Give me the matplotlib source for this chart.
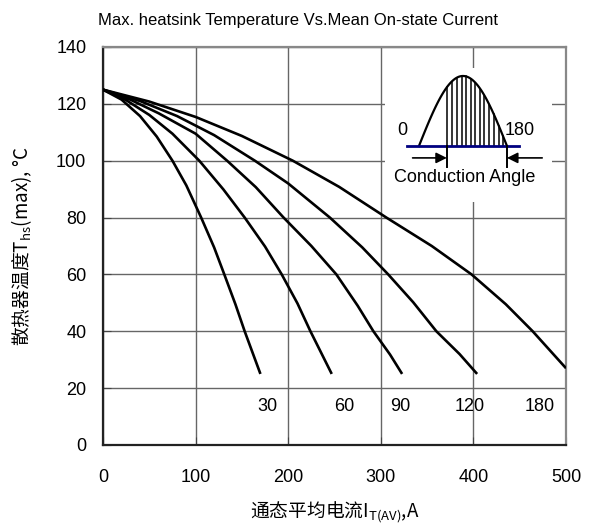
import matplotlib.pyplot as plt
import numpy as np

plt.rcParams['font.family'] = ['Liberation Sans', 'Noto Sans CJK SC', 'DejaVu Sans']

# mean on-state current (A) vs max heatsink temperature (°C), per conduction angle
cur_30 = [0, 20, 40, 58, 75, 90, 106, 120, 131, 143, 153, 170]
tmp_30 = [125, 121.5, 115.7, 108.5, 100, 91.3, 80, 69.5, 60, 49.5, 40, 25]
cur_60 = [0, 25, 50, 75, 104, 130, 153, 175, 193, 210, 224, 247]
tmp_60 = [125, 121.3, 116.1, 109.5, 100, 89.9, 80, 69.8, 60, 49.8, 40, 25]
cur_90 = [0, 30, 60, 100, 134, 165, 195, 225, 252, 275, 292, 310, 323]
tmp_90 = [125, 121.4, 116.7, 109.5, 100, 90.7, 80, 70, 60, 49, 40, 31.8, 25]
cur_120 = [0, 40, 80, 120, 164, 200, 245, 280, 308, 335, 360, 385, 404]
tmp_120 = [125, 121, 115.7, 109, 100, 92, 80, 69.5, 60, 50.2, 40, 32, 25]
cur_180 = [0, 50, 100, 150, 205, 255, 306, 355, 398, 435, 464, 500]
tmp_180 = [125, 120.8, 115.4, 108.7, 100, 90.8, 80, 70, 60, 49.5, 40, 27]

curves = [(cur_30, tmp_30), (cur_60, tmp_60), (cur_90, tmp_90),
          (cur_120, tmp_120), (cur_180, tmp_180)]
angle_labels = ['30', '60', '90', '120', '180']
label_x = [177, 261, 321, 396, 472]
label_y = 13.5

fig = plt.figure(figsize=(5.95, 5.28), dpi=100)
ax = fig.add_axes([0.1731, 0.1572, 0.7782, 0.7538])

for (c, t) in curves:
    ax.plot(c, t, color='black', lw=1.9, solid_joinstyle='round',
            solid_capstyle='butt', zorder=3)
for s, lx in zip(angle_labels, label_x):
    ax.text(lx, label_y, s, ha='center', va='center', fontsize=13)

ax.set_xlim(0, 500)
ax.set_ylim(0, 140)
ax.set_xticks(range(0, 501, 100))
ax.set_yticks(range(0, 141, 20))
ax.grid(True, color='#666666', lw=1.0)
ax.tick_params(direction='in', length=6, labelsize=13, color='#444444')
ax.tick_params(axis='x', pad=17)
ax.tick_params(axis='y', pad=12)
for side in ['left', 'bottom']:
    ax.spines[side].set_color('#222222')
    ax.spines[side].set_linewidth(1.6)
for side in ['top', 'right']:
    ax.spines[side].set_color('#888888')
    ax.spines[side].set_linewidth(1.6)

ax.set_xlabel('通态平均电流I$_{\\mathregular{T(AV)}}$,A', fontsize=13.5,
              family='Noto Sans CJK SC', labelpad=10)
ax.set_ylabel('散热器温度T$_{\\mathregular{hs}}$(max), °C', fontsize=13.5,
              family='Noto Sans CJK SC', labelpad=16)

fig.text(0.5, 1 - 20 / 528, 'Max. heatsink Temperature Vs.Mean On-state Current',
         ha='center', va='center', fontsize=12,
         family=['Liberation Sans Narrow', 'Liberation Sans'])

# inset: conduction angle sketch (x in degrees, y in half-wave amplitude)
ins = fig.add_axes([0.647, 0.6174, 0.2807, 0.2538])
ins.set_xlim(-69.5, 272)
ins.set_ylim(-0.8, 1.114)
ins.set_facecolor('white')
ins.set_xticks([])
ins.set_yticks([])
for sp in ins.spines.values():
    sp.set_visible(False)

deg = np.linspace(0, 180, 91)
ins.plot(deg, np.sin(np.radians(deg)), color='black', lw=1.6)
hatch_deg = [57, 67, 77, 87, 96, 106, 115, 125, 134, 144, 153, 163, 172]
for h in hatch_deg:
    ins.plot([h, h], [0, np.sin(np.radians(h))], color='black', lw=1.1)
ins.plot([-24, 205], [0, 0], color='#000080', lw=2)
ins.plot([57, 57], [0, -0.3], color='black', lw=1.4)
ins.plot([180, 180], [0, -0.3], color='black', lw=1.4)
ins.annotate('', xy=(57, -0.17), xytext=(-13, -0.17),
             arrowprops=dict(arrowstyle='-|>', color='black', lw=1.2,
                             mutation_scale=16, shrinkA=0, shrinkB=0))
ins.annotate('', xy=(180, -0.17), xytext=(252, -0.17),
             arrowprops=dict(arrowstyle='-|>', color='black', lw=1.2,
                             mutation_scale=16, shrinkA=0, shrinkB=0))
ins.text(-35, 0.22, '0', ha='center', va='center', fontsize=13)
ins.text(206, 0.22, '180', ha='center', va='center', fontsize=13)
ins.text(94, -0.45, 'Conduction Angle', ha='center', va='center', fontsize=13)

fig.savefig('out.png', dpi=100)
